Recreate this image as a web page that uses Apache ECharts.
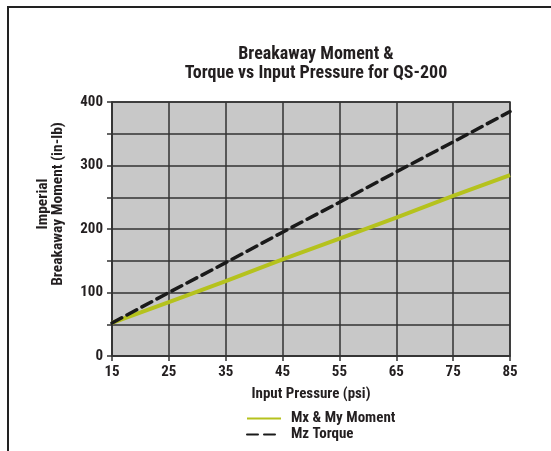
<!DOCTYPE html>
<html>
<head>
<meta charset="utf-8">
<script src="https://cdn.jsdelivr.net/npm/echarts@6/dist/echarts.min.js"></script>
<style>
  html, body { margin: 0; padding: 0; background: #fff; }
  #container { width: 551px; height: 451px; }
</style>
</head>
<body>
<div id="container"></div>
<script>
// data
var pressure = [15, 25, 35, 45, 55, 65, 75, 85];
var momentMxMy = [52, 85, 118, 152, 185, 218, 252, 285];
var torqueMz = [52, 100, 147, 195, 242, 290, 337, 385];
var seriesNames = ['Mx & My Moment', 'Mz Torque'];

// condensed face of Roboto, picked through the font shorthand
var FONT = 'Roboto, sans-serif';
var STRETCH = 'condensed';
var INK = '#231f20';

function pairs(xs, ys) {
    var out = [];
    for (var i = 0; i < xs.length; i++) {
        out.push([xs[i], ys[i]]);
    }
    return out;
}

function txt(size, extra) {
    var s = { fontFamily: FONT, fontStyle: STRETCH, fontWeight: 'bold', fontSize: size, color: INK };
    for (var k in extra) { s[k] = extra[k]; }
    return s;
}

var dom = document.getElementById("container");
var myChart = echarts.init(dom, null, { renderer: 'canvas' });
var option = {
    backgroundColor: '#fff',
    animation: false,
    title: {
        text: 'Breakaway Moment &\nTorque vs Input Pressure for QS-200',
        left: 311,
        textAlign: 'center',
        top: 40,
        textStyle: txt(18, { lineHeight: 19 })
    },
    graphic: [
        { type: 'line', shape: { x1: 7, y1: 7, x2: 551, y2: 7 }, style: { stroke: '#222', lineWidth: 2 } },
        { type: 'line', shape: { x1: 8, y1: 7, x2: 8, y2: 451 }, style: { stroke: '#222', lineWidth: 2 } }
    ],
    legend: {
        orient: 'vertical',
        left: 241,
        top: 406,
        itemWidth: 34,
        itemHeight: 10,
        itemGap: 1,
        itemStyle: { opacity: 0 },
        textStyle: txt(15, { padding: [0, 0, 0, 5] }),
        data: seriesNames
    },
    grid: {
        left: 112,
        right: 41,
        top: 102,
        bottom: 95,
        show: true,
        backgroundColor: '#c8c8c8',
        borderColor: '#333',
        borderWidth: 1.5
    },
    xAxis: {
        type: 'value',
        min: 15,
        max: 85,
        interval: 10,
        name: 'Input Pressure (psi)',
        nameLocation: 'middle',
        nameGap: 31,
        nameTextStyle: txt(15, {}),
        axisLine: { show: true, lineStyle: { color: '#333', width: 1.5 } },
        axisTick: { show: true, length: 5, lineStyle: { color: '#333', width: 1.5 } },
        axisLabel: txt(15, { margin: 9 }),
        splitLine: { show: true, lineStyle: { color: '#333', width: 1.5 } }
    },
    yAxis: {
        type: 'value',
        min: 0,
        max: 400,
        interval: 50,
        name: 'Imperial\nBreakaway Moment (in-lb)',
        nameLocation: 'middle',
        nameGap: 46,
        nameTextStyle: txt(15.5, { lineHeight: 15, padding: [0, 0, 0, 50] }),
        axisLine: { show: true, lineStyle: { color: '#333', width: 1.5 } },
        axisTick: { show: true, length: 5, lineStyle: { color: '#333', width: 1.5 } },
        axisLabel: txt(15, {
            margin: 9,
            formatter: function (v) { return v % 100 === 0 ? String(v) : ''; }
        }),
        splitLine: { show: true, lineStyle: { color: '#333', width: 1.5 } }
    },
    series: [
        {
            name: seriesNames[0],
            type: 'line',
            symbol: 'none',
            data: pairs(pressure, momentMxMy),
            lineStyle: { color: '#b5c21d', width: 4 },
            itemStyle: { color: '#b5c21d' }
        },
        {
            name: seriesNames[1],
            type: 'line',
            symbol: 'none',
            data: pairs(pressure, torqueMz),
            lineStyle: { color: '#1a1a1a', width: 3.5, type: [11, 6], cap: 'round' },
            itemStyle: { color: '#1a1a1a' }
        }
    ]
};
if (option && typeof option === "object") {
    myChart.setOption(option, true);
}
</script>
</body>
</html>
